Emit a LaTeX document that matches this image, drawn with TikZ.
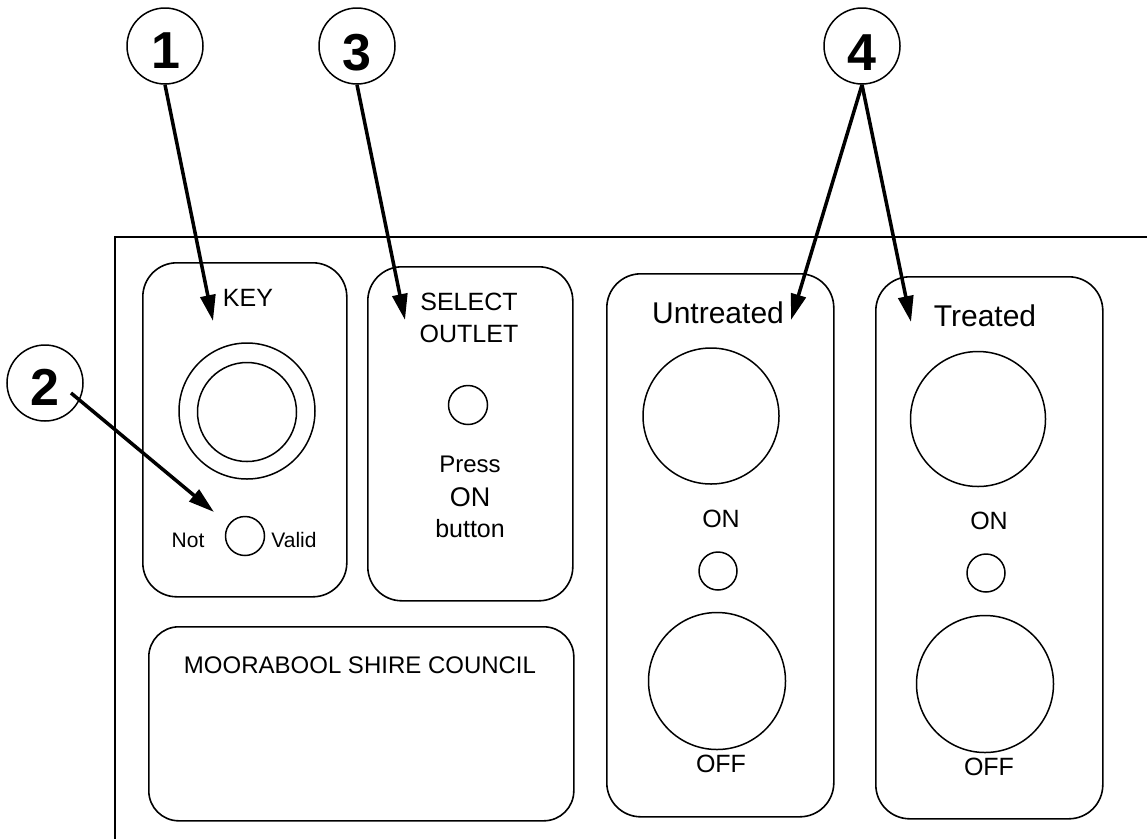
\documentclass[tikz,border=0pt]{standalone}
\usepackage{fontspec}
\setmainfont{Liberation Sans}
\usetikzlibrary{arrows.meta}
\begin{document}
\begin{tikzpicture}[x=1pt,y=-1pt,
  panel/.style={draw, line width=1.6pt, rounded corners=34pt, anchor=north west, inner sep=0pt},
  ring/.style={draw, circle, line width=1.5pt, inner sep=0pt},
  callout/.style={draw, circle, line width=1.5pt, minimum size=76pt, inner sep=0pt},
  digit/.style={font=\fontsize{52}{52}\selectfont\bfseries, anchor=base, inner sep=0pt},
  lbl/.style={anchor=base, inner sep=0pt, font=\fontsize{25}{25}\selectfont},
  pointer/.style={-{Triangle[length=26pt,width=15pt]}, line width=3.5pt}]
\useasboundingbox (0,0) rectangle (1147,839);
% outer panel
\draw[line width=1.6pt] (1147,237) -- (115,237) -- (115,839);
% panels
\node[panel, minimum width=204pt, minimum height=334pt] (keyp) at (142,262) {};
\node[panel, minimum width=205pt, minimum height=334pt] (selp) at (367,266) {};
\node[panel, minimum width=227pt, minimum height=543pt] (untp) at (606,273) {};
\node[panel, minimum width=227pt, minimum height=542pt] (trep) at (875,276) {};
\node[panel, minimum width=425pt, minimum height=194pt, rounded corners=30pt] (moop) at (148,626) {};
% key panel
\node[lbl] (keyt) at (248,306) {KEY};
\node[ring, minimum size=136pt] (keyo) at (247,411) {};
\node[ring, minimum size=99pt] (keyi) at (247,412) {};
\node[ring, minimum size=39pt] (keyled) at (245,536) {};
\node[lbl, font=\fontsize{21}{21}\selectfont] (nott) at (188,547) {Not};
\node[lbl, font=\fontsize{21}{21}\selectfont] (valt) at (294,547) {Valid};
% select panel
\node[lbl] (selt1) at (469,310) {SELECT};
\node[lbl] (selt2) at (469,342) {OUTLET};
\node[ring, minimum size=39pt] (selled) at (468,405) {};
\node[lbl, font=\fontsize{24}{24}\selectfont] (prt) at (470,472) {Press};
\node[lbl, font=\fontsize{27}{27}\selectfont] (ont) at (470,506) {ON};
\node[lbl] (butt) at (470,537) {button};
% untreated panel
\node[lbl, font=\fontsize{30}{30}\selectfont] (untt) at (718,323) {Untreated};
\node[ring, minimum size=136pt] (unton) at (711,416) {};
\node[lbl] (untont) at (721,527) {ON};
\node[ring, minimum size=38pt] (untled) at (718,571) {};
\node[ring, minimum size=137pt] (untoff) at (717,681) {};
\node[lbl] (untofft) at (721,772) {OFF};
% treated panel
\node[lbl, font=\fontsize{30}{30}\selectfont] (tret) at (985,326) {Treated};
\node[ring, minimum size=135pt] (treon) at (978,419) {};
\node[lbl] (treont) at (989,529) {ON};
\node[ring, minimum size=38pt] (treled) at (986,573) {};
\node[ring, minimum size=137pt] (treoff) at (985,684) {};
\node[lbl] (treofft) at (989,775) {OFF};
% council panel
\node[lbl, font=\fontsize{24}{24}\selectfont] (moot) at (360,673) {MOORABOOL SHIRE COUNCIL};
% callouts
\node[callout] (c1) at (165,46) {};
\node[digit] (d1) at (166,68) {1};
\node[callout] (c3) at (357,46) {};
\node[digit] (d3) at (357,70) {3};
\node[callout] (c4) at (862,46) {};
\node[digit] (d4) at (862,70) {4};
\node[callout] (c2) at (45,383) {};
\node[digit] (d2) at (45,405) {2};
% arrow ends
\coordinate (t1) at (213,321);
\coordinate (t3) at (405,320);
\coordinate (s2) at (71,393);
\coordinate (t2) at (214,512);
\coordinate (t4a) at (791,320);
\coordinate (t4b) at (911,322);
\draw[pointer] (c1.south) -- (t1);
\draw[pointer] (c3.south) -- (t3);
\draw[pointer] (s2) -- (t2);
\draw[pointer] (c4.south) -- (t4a);
\draw[pointer] (c4.south) -- (t4b);
\end{tikzpicture}
\end{document}
